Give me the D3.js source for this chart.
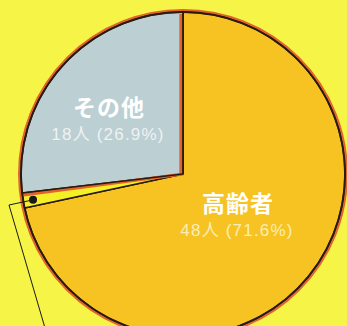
<!DOCTYPE html>
<html lang="ja">
<head>
<meta charset="UTF-8">
<title>pie</title>
<style>
  html, body { margin: 0; padding: 0; background: #f6f446; overflow: hidden; }
  svg { display: block; }
</style>
</head>
<body>
<div class="chart"></div>
<script src="https://cdn.jsdelivr.net/npm/d3@7/dist/d3.min.js"></script>
<script>
// data
var names = ["高齢者", "不明", "その他"];
var counts = [48, 1, 18];
var percents = ["71.6%", "1.5%", "26.9%"];
var showLabel = [true, false, true];

var colors = ["#f6c323", "#f4ef26", "#bccfd3"];

var width = 347, height = 326;
var cx = 183, cy = 174, r = 162;

var svg = d3.select(".chart").append("svg")
    .attr("width", width)
    .attr("height", height);

var data = names.map(function(n, i) {
    return { name: n, value: counts[i], pct: percents[i], color: colors[i], label: showLabel[i] };
});

var pie = d3.pie()
    .value(function(d) { return d.value; })
    .sort(null);

var arcs = pie(data);

var arc = d3.arc().innerRadius(0).outerRadius(r);

var g = svg.append("g").attr("transform", "translate(" + cx + "," + cy + ")");

// reddish halo round the rim
g.append("circle")
    .attr("r", r + 1.5)
    .style("fill", "none")
    .style("stroke", "#e0642c")
    .style("stroke-width", 3);

g.selectAll("path.slice")
    .data(arcs)
    .enter().append("path")
    .attr("class", "slice")
    .attr("d", arc)
    .style("fill", function(d) { return d.data.color; })
    .style("stroke", "#2a1a10")
    .style("stroke-width", 1.6)
    .style("stroke-linejoin", "round");

function pt(a, rad) { return [Math.sin(a) * rad, -Math.cos(a) * rad]; }

// orange edge on the inside of the grey slice
var other = arcs[2];
var off = 2.2;
var pA = pt(other.startAngle, r - 1);
var shift0 = [-Math.cos(other.startAngle) * off, -Math.sin(other.startAngle) * off];
g.append("line")
    .attr("x1", shift0[0]).attr("y1", shift0[1] - off)
    .attr("x2", pA[0] + shift0[0]).attr("y2", pA[1] + shift0[1])
    .style("stroke", "#e0642c").style("stroke-width", 3);
g.append("line")
    .attr("x1", -off).attr("y1", 0)
    .attr("x2", -off).attr("y2", -r + 2)
    .style("stroke", "#e0642c").style("stroke-width", 3);

// black lines over the edges again
g.selectAll("line.edge")
    .data([other.startAngle, other.endAngle])
    .enter().append("line")
    .attr("class", "edge")
    .attr("x1", 0).attr("y1", 0)
    .attr("x2", function(a) { return Math.sin(a) * r; })
    .attr("y2", function(a) { return -Math.cos(a) * r; })
    .style("stroke", "#2a1a10").style("stroke-width", 1.6);

g.append("circle")
    .attr("r", r)
    .style("fill", "none")
    .style("stroke", "#2a1a10")
    .style("stroke-width", 1.8);

// labels
var labelPos = { "高齢者": [55, 38], "その他": [-74, -58] };
var subColor = { "高齢者": "#faeeb8", "その他": "#eef2f2" };
var lab = g.selectAll("g.lab")
    .data(arcs.filter(function(d) { return d.data.label; }))
    .enter().append("g")
    .attr("class", "lab")
    .attr("transform", function(d) {
        var p = labelPos[d.data.name];
        return "translate(" + p[0] + "," + p[1] + ")";
    });

lab.append("text")
    .attr("text-anchor", "middle")
    .attr("y", 0)
    .style("font-family", "'Noto Sans CJK JP', sans-serif")
    .style("font-weight", "bold")
    .style("font-size", "23px")
    .style("letter-spacing", "1px")
    .style("fill", "#ffffff")
    .text(function(d) { return d.data.name; });

lab.append("text")
    .attr("text-anchor", "middle")
    .attr("x", -1)
    .attr("y", 24)
    .style("font-family", "'Liberation Sans', 'Noto Sans CJK JP', sans-serif")
    .style("font-size", "17px")
    .style("letter-spacing", "1.2px")
    .style("fill", function(d) { return subColor[d.data.name]; })
    .text(function(d) { return d.data.value + "人 (" + d.data.pct + ")"; });

// marker and leader line for the small slice
var small = arcs[1];
var mid = (small.startAngle + small.endAngle) / 2;
var dot = pt(mid, r - 10);
g.append("circle")
    .attr("cx", dot[0]).attr("cy", dot[1] + 1)
    .attr("r", 4)
    .style("fill", "#1a1a1a");

g.append("polyline")
    .attr("points", [[dot[0], dot[1] + 1], [9 - cx, 205 - cy], [45 - cx, height - cy + 2]].map(function(p) { return p.join(","); }).join(" "))
    .style("fill", "none")
    .style("stroke", "#1a1a1a")
    .style("stroke-width", 1);
</script>
</body>
</html>
